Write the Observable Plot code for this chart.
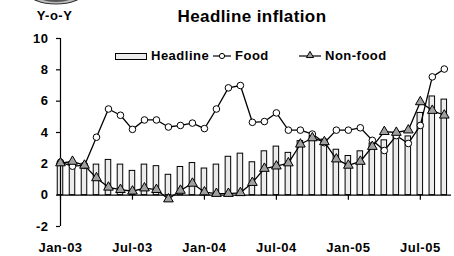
<!DOCTYPE html>
<html><head><meta charset="utf-8">
<script src="https://cdn.jsdelivr.net/npm/d3@7"></script>
<script src="https://cdn.jsdelivr.net/npm/@observablehq/plot@0.6"></script>
<style>
body{margin:0;background:#fff}
#wrap{position:relative;width:454px;height:256px;overflow:hidden;font-family:"Liberation Sans",Arial,sans-serif;font-weight:bold}
#wrap svg{position:absolute;left:0;top:0}
</style></head>
<body><div id="wrap"></div>
<script>
const months = ["Jan-03","Feb-03","Mar-03","Apr-03","May-03","Jun-03","Jul-03","Aug-03","Sep-03","Oct-03","Nov-03","Dec-03",
  "Jan-04","Feb-04","Mar-04","Apr-04","May-04","Jun-04","Jul-04","Aug-04","Sep-04","Oct-04","Nov-04","Dec-04",
  "Jan-05","Feb-05","Mar-05","Apr-05","May-05","Jun-05","Jul-05","Aug-05","Sep-05"];
const tickLabels = ["Jan-03","Jul-03","Jan-04","Jul-04","Jan-05","Jul-05"];
const yTicks = [-2,0,2,4,6,8,10];
const seriesNames = ["Headline","Food","Non-food"];
const headline = [2.1,2.0,2.0,1.95,2.25,1.95,1.55,1.95,1.85,1.3,1.8,2.05,1.7,1.95,2.45,2.65,2.1,2.8,3.1,2.7,3.45,3.75,3.55,2.9,2.5,2.8,3.3,3.5,3.75,3.75,5.25,6.3,6.1];
const food = [2.1,1.85,1.9,3.7,5.5,5.1,4.2,4.8,4.8,4.35,4.45,4.6,4.25,5.5,6.85,7.0,4.65,4.7,5.25,4.15,4.15,3.9,3.35,4.15,4.15,4.3,3.5,2.85,3.8,3.3,4.45,7.55,8.05];
const nonfood = [2.05,2.15,1.9,1.1,0.5,0.35,0.25,0.45,0.35,-0.25,0.3,0.75,0.2,0.1,0.1,0.15,0.8,1.7,1.85,2.05,3.25,3.65,3.4,2.3,1.9,2.15,3.1,4.05,4.0,4.15,5.95,5.4,5.1];

const rows = months.map((m,i)=>({i, m, headline:headline[i], food:food[i], nonfood:nonfood[i]}));
const tickIdx = tickLabels.map(t=>months.indexOf(t));
const font = '"Liberation Sans",Arial,sans-serif';

const chart = Plot.plot({
  width:454, height:256,
  marginLeft:60, marginRight:3, marginTop:38, marginBottom:30,
  style:{fontFamily:font, fontWeight:"bold", fontSize:"13px", letterSpacing:"0.5px", color:"#000", background:"transparent", overflow:"visible"},
  x:{type:"linear", domain:[0,32.6]},
  y:{domain:[-2,10]},
  marks:[
    Plot.rect(rows,{x1:d=>d.i-0.23, x2:d=>d.i+0.23, y1:0, y2:"headline", fill:"#ececec", stroke:"#000", strokeWidth:1}),
    Plot.ruleY([0],{stroke:"#000", strokeWidth:1.2}),
    Plot.ruleX(tickIdx,{x:d=>d, y1:0, y2:0, insetBottom:-5, stroke:"#000", strokeWidth:1.2}),
    Plot.ruleX([0],{stroke:"#000", strokeWidth:1.2}),
    Plot.axisY({ticks:yTicks, tickSize:4, tickPadding:8, tickFormat:d=>String(d), label:null, strokeWidth:1.2}),
    Plot.axisX({ticks:tickIdx, tickFormat:i=>months[i], tickSize:0, tickPadding:16, label:null}),
    Plot.line(rows,{x:"i", y:"food", stroke:"#000", strokeWidth:1.3}),
    Plot.dot(rows,{x:"i", y:"food", r:3.3, fill:"#fff", stroke:"#000", strokeWidth:1}),
    Plot.line(rows,{x:"i", y:"nonfood", stroke:"#000", strokeWidth:1.3}),
    Plot.dot(rows,{x:"i", y:"nonfood", symbol:"triangle", r:3.6, fill:"#a0a0a0", stroke:"#000", strokeWidth:1})
  ]
});
const wrap = document.getElementById("wrap");
wrap.appendChild(chart);

// overlay: logo fragment, titles, legend
const svg = d3.select(wrap).append("svg").attr("width",454).attr("height",256)
  .style("font-family",font).style("font-weight","bold").style("pointer-events","none");
svg.append("ellipse").attr("cx",56).attr("cy",-7).attr("rx",27).attr("ry",11).attr("fill","#bbb").attr("stroke","#333").attr("stroke-width",1.2);
svg.append("ellipse").attr("cx",56).attr("cy",-6).attr("rx",20).attr("ry",8).attr("fill","#555");
svg.append("text").attr("x",54.5).attr("y",19.5).attr("text-anchor","middle").attr("font-size",13).attr("letter-spacing","0.5px").text("Y-o-Y");
svg.append("text").attr("x",252).attr("y",22).attr("text-anchor","middle").attr("font-size",17).attr("letter-spacing","0.4px").text("Headline inflation");

const lg = svg.append("g").attr("font-size",13).attr("letter-spacing","0.5px");
lg.append("rect").attr("x",115.5).attr("y",53.5).attr("width",31).attr("height",6).attr("fill","#ececec").attr("stroke","#000");
lg.append("text").attr("x",151).attr("y",60).text(seriesNames[0]);
lg.append("line").attr("x1",213).attr("x2",231).attr("y1",56).attr("y2",56).attr("stroke","#000").attr("stroke-width",1.2);
lg.append("circle").attr("cx",222).attr("cy",56).attr("r",2.6).attr("fill","#fff").attr("stroke","#000");
lg.append("text").attr("x",235).attr("y",60).text(seriesNames[1]);
lg.append("line").attr("x1",299).attr("x2",321).attr("y1",56).attr("y2",56).attr("stroke","#000").attr("stroke-width",1.2);
lg.append("path").attr("d",d3.symbol(d3.symbolTriangle,22)()).attr("transform","translate(310,55.5)").attr("fill","#a0a0a0").attr("stroke","#000");
lg.append("text").attr("x",325).attr("y",60).text(seriesNames[2]);
</script>
</body></html>
